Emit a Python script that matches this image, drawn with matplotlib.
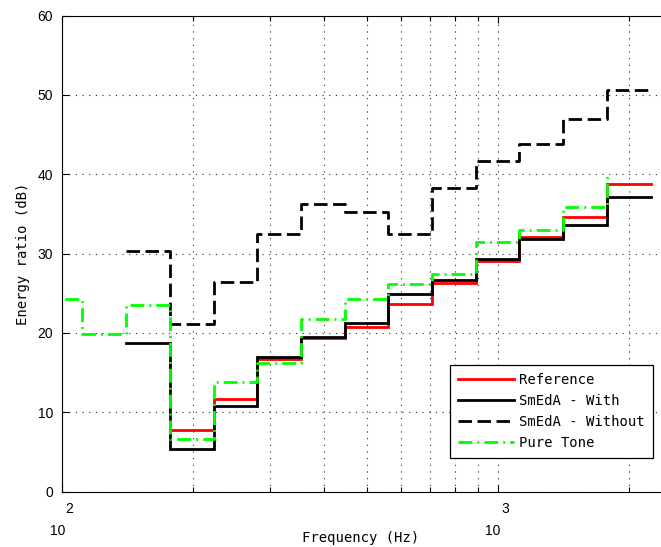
import numpy as np
import matplotlib
matplotlib.use("Agg")
import matplotlib.pyplot as plt
from matplotlib import transforms
from matplotlib.ticker import FixedLocator, NullFormatter
from matplotlib.lines import Line2D

plt.rcParams['lines.scale_dashes'] = False

# third-octave band nominal centre frequencies (Hz)
bands = [100, 125, 160, 200, 250, 315, 400, 500, 630, 800, 1000, 1250, 1600, 2000]

# energy ratio (dB) per band
reference = [7.8, 11.6, 16.7, 19.4, 20.7, 23.6, 26.25, 29.1, 32.05, 34.6, 38.7]            # from 200 Hz
smeda_with = [18.7, 5.4, 10.8, 16.9, 19.45, 21.3, 24.85, 26.7, 29.3, 31.85, 33.55, 37.1]     # from 160 Hz
smeda_without = [30.3, 21.1, 26.4, 32.5, 36.3, 35.2, 32.4, 38.3, 41.7, 43.8, 46.95, 50.6]    # from 160 Hz
pure_tone = [24.3, 19.8, 23.5, 6.6, 13.8, 16.2, 21.8, 24.3, 26.2, 27.45, 31.5, 32.9, 35.85, 40.0]  # from 100 Hz

labels = ["Reference", "SmEdA - With", "SmEdA - Without", "Pure Tone"]
yticks = [0, 10, 20, 30, 40, 50, 60]


def exact_centre(f):
    k = round(3 * np.log2(f / 1000.0))
    return 1000.0 * 2 ** (k / 3.0)


def lower_edge(f):
    return exact_centre(f) * 2 ** (-1 / 6)


def upper_edge(f):
    return exact_centre(f) * 2 ** (1 / 6)


def full_steps(vals):
    start = len(bands) - len(vals)
    xs = [lower_edge(b) for b in bands[start:]] + [upper_edge(bands[-1])]
    ys = list(vals) + [vals[-1]]
    return xs, ys


def open_steps(vals):
    start = len(bands) - len(vals)
    xs = [lower_edge(b) for b in bands[start:]]
    return xs, list(vals)


W, H = 661, 547
fig = plt.figure(figsize=(W / 100, H / 100), dpi=100)
L, R, T, B = 62, 671, 15.5, 491.5
ax = fig.add_axes([L / W, 1 - B / H, (R - L) / W, (B - T) / H])

mono = "DejaVu Sans Mono"
numfont = "Liberation Sans"

lw = 2.0
dash = (0, (9.7, 4.0))
dashdot = (0, (10.0, 3.6, 1.4, 3.6))

x, y = full_steps(reference)
ax.step(x, y, where='post', color='#ff0000', lw=lw, solid_joinstyle='miter', zorder=3)
x, y = full_steps(smeda_with)
ax.step(x, y, where='post', color='black', lw=lw, solid_joinstyle='miter', zorder=4)
x, y = full_steps(smeda_without)
ax.step(x, y, where='post', color='black', lw=lw, linestyle=dash, zorder=4)
x, y = open_steps(pure_tone)
ax.step(x, y, where='post', color='#00ff00', lw=lw, linestyle=dashdot, zorder=5)

ax.set_xscale('log')
ax.set_xlim(100, 2500)
ax.set_ylim(0, 60)

ax.xaxis.set_major_locator(FixedLocator([100, 1000]))
ax.xaxis.set_minor_locator(FixedLocator([200, 300, 400, 500, 600, 700, 800, 900, 2000]))
ax.xaxis.set_major_formatter(NullFormatter())
ax.xaxis.set_minor_formatter(NullFormatter())
ax.set_yticks(yticks)
ax.set_yticklabels([str(v) for v in yticks], fontfamily=numfont, fontsize=10)

ax.tick_params(which='both', direction='in', top=True, right=True, width=0.8, color='black')
ax.tick_params(which='major', length=5)
ax.tick_params(which='minor', length=3.5)
ax.tick_params(axis='y', pad=6.3)

for s in ax.spines.values():
    s.set_linewidth(0.8)
    s.set_color('black')

gridkw = dict(color='0.15', linewidth=0.8, linestyle=(0, (0.8, 4.0)))
ax.grid(True, which='major', axis='y', **gridkw)
ax.grid(True, which='both', axis='x', **gridkw)
ax.set_axisbelow(True)

# x tick labels in 10^n style (exponent at full size, raised)
base = transforms.blended_transform_factory(ax.transData, ax.transAxes)
for t in [100, 1000]:
    e = int(round(np.log10(t)))
    off10 = transforms.ScaledTranslation(3.0 / 100, -43.5 / 100, fig.dpi_scale_trans)
    offe = transforms.ScaledTranslation(3.7 / 100, -21.5 / 100, fig.dpi_scale_trans)
    ax.text(t, 0, "10", transform=base + off10, ha='right', va='baseline',
            fontfamily=numfont, fontsize=10, clip_on=False)
    ax.text(t, 0, str(e), transform=base + offe, ha='left', va='baseline',
            fontfamily=numfont, fontsize=10, clip_on=False)

ax.set_xlabel("Frequency (Hz)", fontfamily=mono, fontsize=10)
ax.xaxis.set_label_coords((361 - L) / (R - L), -(538 - B) / (B - T))
ax.xaxis.label.set_va('center')
ax.set_ylabel("Energy ratio (dB)", fontfamily=mono, fontsize=10)
ax.yaxis.set_label_coords(-(L - 22.7) / (R - L), 0.5)
ax.yaxis.label.set_va('center')

handles = [
    Line2D([], [], color='#ff0000', lw=lw),
    Line2D([], [], color='black', lw=lw),
    Line2D([], [], color='black', lw=lw, linestyle=dash),
    Line2D([], [], color='#00ff00', lw=lw, linestyle=dashdot),
]
leg = ax.legend(handles, labels, loc='lower right',
                bbox_to_anchor=(652.5 / W, 1 - 458.3 / H), bbox_transform=fig.transFigure,
                borderaxespad=0, frameon=True, fancybox=False, framealpha=1,
                edgecolor='black', prop={'family': mono, 'size': 10},
                handlelength=4.0, handletextpad=0.35, labelspacing=0.5, borderpad=0.6)
leg.get_frame().set_linewidth(0.9)

fig.savefig("out.png", dpi=100)
